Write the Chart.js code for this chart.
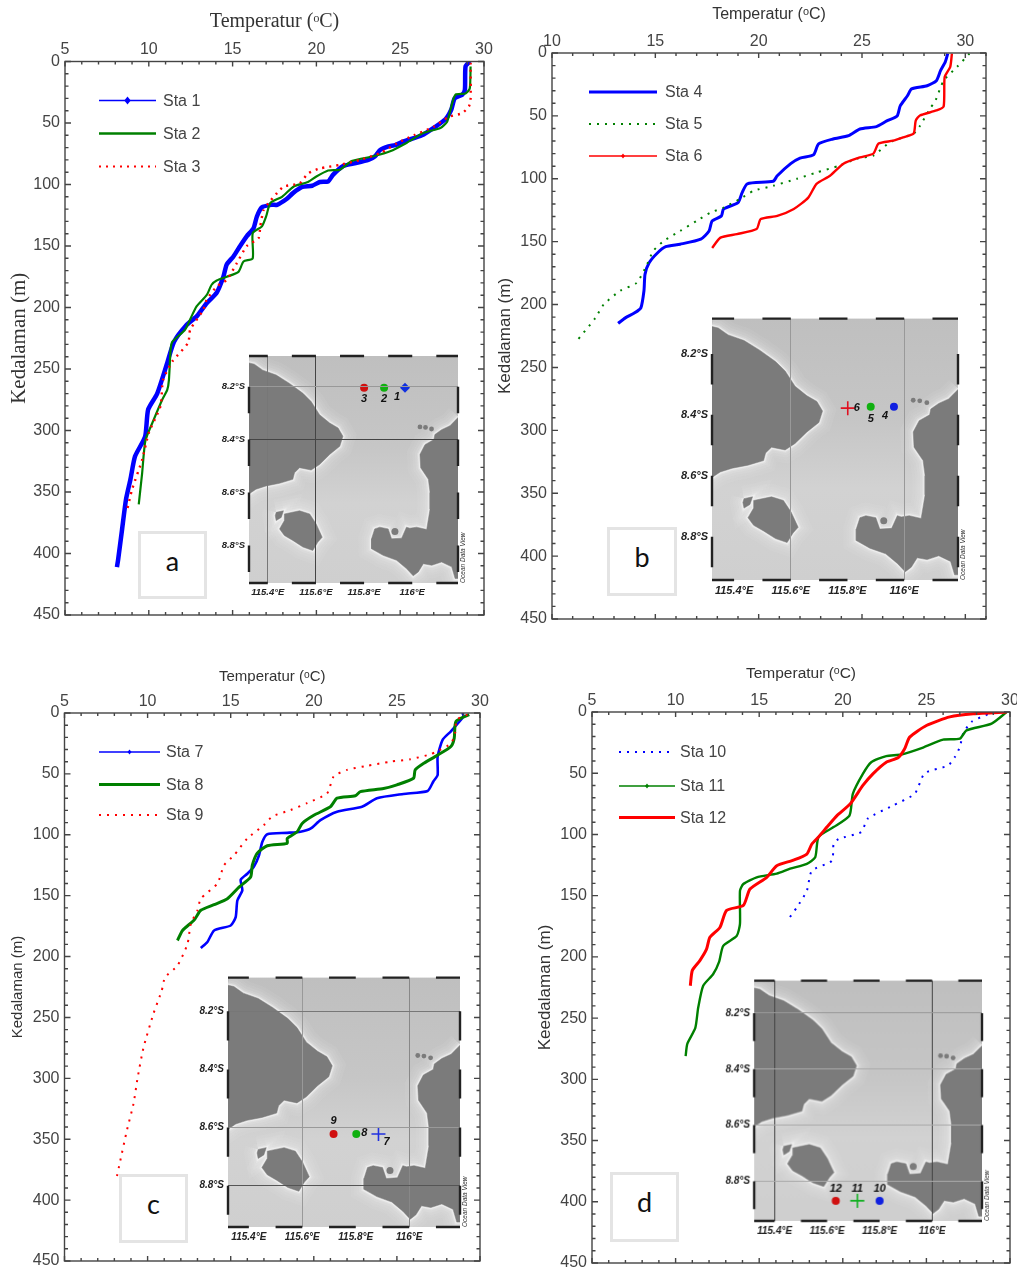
<!DOCTYPE html>
<html>
<head>
<meta charset="utf-8">
<script src="https://cdn.jsdelivr.net/npm/chart.js@4/dist/chart.umd.js"></script>
<style>
  html, body { margin: 0; background: #fff; overflow: hidden; }
  #page { position: relative; width: 1017px; height: 1271px; overflow: hidden; }
  canvas { position: absolute; }
  .tag { position: absolute; box-sizing: border-box; border: 3px solid #e4e4e4; background: #fff;
         font: 27px Lato, "Open Sans", sans-serif; color: #111; text-align: center; }
</style>
</head>
<body>
<div id="page"></div>
<script>
// temperature (deg C) and depth (m)
const sta1Temp = [29.16, 28.9, 28.86, 28.7, 28.25, 28.05, 27.7, 27, 26.3, 25.2, 24.7, 24.3, 23.8, 23.5, 23.1, 22.2, 21.6, 21, 20.7, 20.2, 19.75, 19.15, 18.6, 18.2, 17.65, 17.35, 16.75, 16.45, 16.25, 15.85, 15.45, 15.05, 14.65, 14.45, 14.05, 13.45, 12.87, 12.2, 11.5, 11.1, 10.5, 9.96, 9.78, 9.18, 8.9, 8.64, 8.4, 8.17, 8.1]
const sta1Depth = [0, 4, 23, 27, 30, 39, 47, 54, 60, 65, 68, 69, 72, 77, 80, 83, 85, 92, 97.5, 98, 101, 102, 107, 112, 116.5, 116.5, 118.5, 126, 135.5, 142, 150, 158.5, 165, 175, 188, 196.5, 207, 215, 228, 245, 270, 283, 305, 321, 340, 356, 381, 405, 411]
const sta2Temp = [29.2, 29.15, 28.9, 28.3, 28.1, 27.8, 27.4, 26.4, 25.4, 24.4, 23.4, 22.1, 21.4, 20.7, 20, 19.5, 18.65, 17.95, 17.25, 17, 16.75, 16.2, 16.2, 15.65, 15.35, 14.65, 14.05, 13.75, 13.45, 12.85, 12.5, 12.17, 11.4, 11.3, 11.2, 11.1, 10.8, 10.3, 9.8, 9.6, 9.4]
const sta2Depth = [4, 22, 26, 27, 34, 49, 54, 58, 66, 73, 77, 81, 88, 88.6, 93.5, 98, 101.6, 110, 115, 126, 134, 139.5, 160, 162.6, 171, 175, 178, 181.5, 190, 199, 208.7, 218, 228, 234.5, 259, 267, 275, 291, 308, 335, 360]
const sta3Temp = [29.2, 29.2, 29.1, 28.7, 27.9, 27, 25.8, 24.8, 23.8, 22.6, 21.4, 20.2, 19.5, 19, 18.05, 17.65, 17.15, 16.85, 16.65, 16.55, 15.85, 15.25, 14.65, 14.05, 13.45, 13.25, 12.47, 12.35, 11.4, 10.85, 10.7, 10, 9.6, 9, 8.7]
const sta3Depth = [1, 31, 36.5, 42, 45, 53, 60, 66.5, 74.5, 80, 84, 87, 91, 99, 101.6, 107, 115, 120.6, 134, 143.6, 150, 164, 177.5, 183, 193.8, 202, 218, 228.6, 244, 259, 280, 302, 324, 348, 365]

const sta4Temp = [29.15, 29.03, 28.8, 28.6, 28.15, 27.4, 27.2, 26.85, 26.7, 26.2, 25.7, 24.9, 24.35, 23.6, 22.9, 22.65, 22, 21.55, 20.9, 20.7, 19.45, 19.2, 19, 18.3, 18.2, 17.75, 17.6, 17.2, 16.2, 15.5, 15.1, 14.7, 14.5, 14.45, 14.3, 14, 13.55, 13.2]
const sta4Depth = [0.5, 7, 14, 22, 26, 28.5, 34, 42, 50, 54, 58.5, 60.4, 65.7, 68.4, 72.3, 81, 83.5, 88, 97.6, 102, 104, 111, 119, 124, 129.5, 133.5, 141.5, 148, 152, 154, 159, 166.8, 176, 189, 202.6, 206.6, 210.6, 215]
const sta5Temp = [30.2, 29.6, 28.95, 28.55, 28.3, 27.8, 27.5, 26.35, 25.55, 24.75, 23.9, 22.8, 21.85, 20.7, 19.75, 19.1, 18.3, 17.65, 17, 16.2, 15.4, 14.9, 14.6, 14.1, 13.3, 12.5, 12.1, 11.2]
const sta5Depth = [0.5, 11, 22, 38, 44, 58, 64, 71, 81.6, 84, 89.6, 95, 100, 105.6, 109.6, 116, 123, 127, 133.5, 141.5, 149.5, 157.4, 168, 182.7, 189, 200, 210.6, 229]
const sta6Temp = [29.35, 29.27, 29, 28.95, 28.6, 27.8, 27.6, 27.5, 27, 26.5, 25.8, 25.55, 24.9, 24.1, 23.45, 22.8, 22.4, 21.7, 20.9, 20.1, 19.9, 18.95, 18.15, 17.75]
const sta6Depth = [0.5, 11, 19, 42.5, 45.7, 49.7, 53.7, 64, 67, 69.7, 72, 80, 83, 88, 97.6, 104, 115, 124, 129.5, 132, 140, 144, 146.8, 155]

const sta7Temp = [28.95, 29, 28.25, 27.75, 27.45, 27.45, 27.2, 26.85, 25.4, 23.8, 22.9, 21.4, 20.4, 19.8, 19.2, 18.4, 17.2, 16.9, 16.7, 16.4, 16, 15.6, 15.7, 15.4, 15.3, 15, 14, 13.6, 13.2]
const sta7Depth = [0, 3, 15, 22, 36, 51, 56, 64, 66.5, 70, 77, 81, 88, 95, 97.5, 98.4, 99.5, 106, 117, 126, 132, 137, 145.6, 154, 167.6, 174.5, 178.6, 188, 193]
const sta8Temp = [29.35, 28.55, 28.45, 28.25, 27.4, 26.65, 26.1, 26, 25, 24.2, 22.8, 22.5, 21.4, 21, 20, 19.3, 19, 18.4, 18.4, 17.2, 16.6, 16.3, 16.2, 15.5, 14.8, 14, 13.2, 12.8, 12.1, 11.8]
const sta8Depth = [1.4, 7, 20.6, 27.5, 35, 41, 46.7, 53.6, 59, 62, 64.6, 68, 70, 77, 84, 90.7, 97.5, 103, 107, 109, 115, 125, 134.6, 143, 152.5, 157.4, 162, 170, 178.6, 186.8]
const sta9Temp = [29.25, 28.6, 28.5, 28.25, 27.4, 27, 25.8, 24.6, 23.2, 22, 21.2, 20.8, 19.6, 18.6, 17.5, 17, 16, 15.2, 14.6, 14.2, 13.2, 13, 12.6, 12.4, 11.8, 11.05, 10.85, 10.35, 9.75, 9.4, 9.15, 8.75, 8.35, 8.1]
const sta9Depth = [1.4, 5.5, 16.5, 25, 31.6, 34, 38, 40, 43.4, 46.7, 52, 66, 74, 79.7, 85, 92, 103, 116.8, 125, 140, 152.5, 162, 173, 189.6, 207.4, 217, 228, 247, 275, 299.6, 321, 343, 368, 384]

const sta10Temp = [29.6, 28.8, 27.7, 27.2, 27, 26.7, 26.3, 24.9, 24.3, 23, 21.5, 21.1, 19.75, 19.45, 19.35, 18.15, 17.85, 17.25, 16.65]
const sta10Depth = [0, 1.4, 8, 17.7, 28.6, 36.8, 43.7, 50, 66.8, 76.4, 87, 98, 103.7, 107.8, 121.4, 129.6, 146, 159.6, 171]
const sta11Temp = [29.8, 28.9, 27.4, 27, 26, 24.8, 23.5, 22.6, 21.7, 21.2, 20.6, 20.4, 19.45, 18.55, 18.35, 17.85, 16.85, 16.05, 14.85, 14.05, 13.85, 13.85, 13.65, 12.85, 12.6, 12.25, 11.65, 11.35, 11.18, 10.7, 10.6]
const sta11Depth = [0, 9.5, 15, 21.8, 22.6, 29, 34.7, 36, 41, 50.5, 66.8, 84.6, 94, 102, 118.7, 124, 128, 132, 135, 140.5, 146, 173, 183, 191, 204, 214, 223.6, 241.6, 258, 271, 281]
const sta12Temp = [29.8, 27.8, 26.4, 25, 24, 23.7, 23.3, 22.6, 21.8, 21.2, 20.45, 19.65, 19.05, 18.55, 18.15, 17.85, 17.05, 16.05, 15.45, 14.45, 14.05, 13.05, 12.65, 12.05, 11.85, 11.45, 11, 10.88]
const sta12Depth = [0, 1.4, 4, 11, 20.5, 30, 37.4, 41, 50.5, 60, 75, 84.6, 94, 102, 107.8, 116, 121, 125.5, 135, 144.6, 158, 162, 176, 184, 193.7, 203, 211, 223.6]

const depthTicks = [0, 50, 100, 150, 200, 250, 300, 350, 400, 450]
const tempTicks = [5, 10, 15, 20, 25, 30]
const tempTicksB = [10, 15, 20, 25, 30]

// coastlines for the inset maps (longitude E, latitude S as negative)
const baliLon = [115.321, 115.344, 115.379, 115.435, 115.49, 115.546, 115.58, 115.615, 115.657, 115.692, 115.712, 115.699, 115.657, 115.615, 115.58, 115.532, 115.511, 115.504, 115.449, 115.393, 115.351, 115.321, 115.321]
const baliLat = [-8.11, -8.115, -8.1375, -8.156, -8.1875, -8.225, -8.256, -8.306, -8.3375, -8.356, -8.3875, -8.425, -8.456, -8.494, -8.515, -8.506, -8.525, -8.55, -8.565, -8.575, -8.5875, -8.606, -8.11]
const penidaLon = [115.469, 115.532, 115.574, 115.601, 115.626, 115.608, 115.587, 115.546, 115.504, 115.469, 115.449, 115.469, 115.469]
const penidaLat = [-8.681, -8.669, -8.681, -8.719, -8.769, -8.7875, -8.819, -8.806, -8.781, -8.7625, -8.7375, -8.706, -8.681]
const lembonganLon = [115.435, 115.465, 115.456, 115.435, 115.431, 115.435]
const lembonganLat = [-8.675, -8.669, -8.694, -8.706, -8.6875, -8.675]
const lombokLon = [116.192, 116.157, 116.122, 116.094, 116.09, 116.053, 116.032, 116.035, 116.067, 116.074, 116.074, 116.06, 116.018, 115.99, 115.976, 115.956, 115.914, 115.9, 115.865, 115.844, 115.831, 115.831, 115.879, 115.935, 115.976, 116.004, 116.025, 116.046, 116.081, 116.122, 116.164, 116.178, 116.192, 116.192]
const lombokLat = [-8.315, -8.3475, -8.3625, -8.381, -8.4, -8.419, -8.456, -8.506, -8.55, -8.6, -8.6625, -8.74, -8.731, -8.735, -8.731, -8.7725, -8.775, -8.7375, -8.731, -8.7375, -8.775, -8.8125, -8.8375, -8.856, -8.8875, -8.915, -8.9, -8.869, -8.875, -8.8625, -8.881, -8.925, -8.925, -8.315]
const islesLon = [116.032, 116.055, 116.08, 115.928]
const islesLat = [-8.352, -8.354, -8.36, -8.7475]

const mapLonTicks = [115.4, 115.6, 115.8, 116]
const mapLatTicks = [-8.2, -8.4, -8.6, -8.8]
const mapLonDashes = [[115.322, 115.4], [115.5, 115.6], [115.7, 115.8], [115.9, 116], [116.1, 116.19]]
const mapLatDashes = [[-8.2, -8.3], [-8.4, -8.5], [-8.6, -8.7], [-8.8, -8.9]]

const BLUE = '#0000ff', GREEN = '#008000', RED = '#ff0000'
const SANS_FAMILY = '"Liberation Sans", sans-serif'
const TICK_FONT = { family: SANS_FAMILY, size: 16 }
const page = document.getElementById('page')

function addCanvas(left, top, width, height, blur) {
  const cv = document.createElement('canvas')
  cv.width = width
  cv.height = height
  cv.style.cssText = `left:${left}px;top:${top}px;width:${width}px;height:${height}px;filter:blur(${blur}px);`
  page.appendChild(cv)
  return cv
}

function xy(xs, ys) {
  return xs.map((x, i) => ({ x, y: ys[i] }))
}

// frame, inward ticks on all four sides and the hand placed legend
function profilePlugin(p) {
  return {
    id: 'profileFrame',
    afterDraw(chart) {
      const { ctx, chartArea: a, scales: { x, y } } = chart
      ctx.save()
      ctx.strokeStyle = '#444'
      ctx.lineWidth = 1.4
      ctx.strokeRect(a.left, a.top, a.right - a.left, a.bottom - a.top)
      ctx.beginPath()
      for (let v = p.xMin; v <= p.xMax; v++) {
        const len = v % 5 === 0 ? 5 : 3
        const px = x.getPixelForValue(v)
        ctx.moveTo(px, a.top); ctx.lineTo(px, a.top + len)
        ctx.moveTo(px, a.bottom); ctx.lineTo(px, a.bottom - len)
      }
      for (let v = 0; v <= 450; v += 10) {
        const len = v % 50 === 0 ? 6 : 3.5
        const py = y.getPixelForValue(v)
        ctx.moveTo(a.left, py); ctx.lineTo(a.left + len, py)
        ctx.moveTo(a.right, py); ctx.lineTo(a.right - len, py)
      }
      ctx.stroke()

      ctx.font = '16px ' + SANS_FAMILY
      ctx.textBaseline = 'middle'
      p.series.forEach((s, i) => {
        const ly = p.legend.y[i] - p.canvas[1]
        const x0 = p.legend.x0 - p.canvas[0], x1 = p.legend.x1 - p.canvas[0]
        const mid = (x0 + x1) / 2
        ctx.beginPath()
        ctx.setLineDash(s.dash || [])
        ctx.strokeStyle = s.color
        ctx.lineWidth = s.legendWidth
        ctx.moveTo(x0, ly); ctx.lineTo(x1, ly)
        ctx.stroke()
        ctx.setLineDash([])
        if (s.mark) {
          ctx.fillStyle = s.color
          ctx.beginPath()
          ctx.moveTo(mid, ly - s.mark); ctx.lineTo(mid + s.mark * 0.8, ly)
          ctx.lineTo(mid, ly + s.mark); ctx.lineTo(mid - s.mark * 0.8, ly)
          ctx.fill()
        }
        ctx.fillStyle = '#444'
        ctx.fillText(s.name, p.legend.text - p.canvas[0], ly + 1)
      })
      ctx.restore()
    }
  }
}

function profileChart(p) {
  const [cl, ct, cw, ch] = p.canvas
  const b = p.box
  new Chart(addCanvas(cl, ct, cw, ch, 0.3), {
    type: 'scatter',
    data: {
      datasets: p.series.map((s, i) => ({
        label: s.name,
        data: xy(s.temp, s.depth),
        showLine: true,
        tension: 0.2,
        order: 10 - i,
        borderColor: s.color,
        borderWidth: s.width,
        borderDash: s.dash || [],
        pointRadius: 0,
        pointHoverRadius: 0
      }))
    },
    options: {
      responsive: false,
      animation: false,
      devicePixelRatio: 1,
      layout: { padding: { left: 0, top: 0, right: cl + cw - b.right, bottom: ct + ch - b.bottom } },
      plugins: { legend: { display: false }, tooltip: { enabled: false } },
      scales: {
        x: {
          type: 'linear',
          position: 'top',
          min: p.xMin,
          max: p.xMax,
          afterBuildTicks(s) { s.ticks = p.xTicks.map(value => ({ value })) },
          afterFit(s) { s.height = b.top - ct; s.paddingLeft = 0; s.paddingRight = 0 },
          grid: { display: false, drawTicks: false },
          border: { display: false },
          ticks: { autoSkip: false, maxRotation: 0, padding: 2, color: '#444', font: TICK_FONT },
          title: { display: true, text: 'Temperatur (ᵒC)', color: '#333', font: p.titleFont, padding: { top: p.titleTop, bottom: 0 } }
        },
        y: {
          type: 'linear',
          reverse: true,
          min: 0,
          max: 450,
          afterBuildTicks(s) { s.ticks = depthTicks.map(value => ({ value })) },
          afterFit(s) { s.width = b.left - cl; s.paddingTop = 0; s.paddingBottom = 0 },
          grid: { display: false, drawTicks: false },
          border: { display: false },
          ticks: { autoSkip: false, padding: 5, color: '#444', font: TICK_FONT },
          title: { display: true, text: p.yTitle, color: '#333', font: p.yTitleFont, padding: { top: p.yTitleLeft, bottom: 0 } }
        }
      }
    },
    plugins: [profilePlugin(p)]
  })
}

// sea shading behind, dashed border and labels on top of the inset map
function mapPlugin(m) {
  return {
    id: 'mapDecor',
    beforeDraw(chart) {
      const { ctx, chartArea: a } = chart
      const g = ctx.createLinearGradient(0, a.top, 0, a.bottom)
      g.addColorStop(0, '#bfbfbf')
      g.addColorStop(0.4, '#c6c6c6')
      g.addColorStop(0.65, '#d2d2d2')
      g.addColorStop(1, '#cfcfcf')
      ctx.fillStyle = g
      ctx.fillRect(a.left, a.top, a.right - a.left, a.bottom - a.top)
    },
    afterDraw(chart) {
      const { ctx, chartArea: a, scales: { x, y } } = chart
      ctx.save()
      ctx.strokeStyle = '#222'
      ctx.lineWidth = 2.4
      ctx.beginPath()
      mapLonDashes.forEach(([p, q]) => {
        for (const yy of [a.top, a.bottom]) {
          ctx.moveTo(x.getPixelForValue(p), yy); ctx.lineTo(x.getPixelForValue(q), yy)
        }
      })
      mapLatDashes.forEach(([p, q]) => {
        for (const xx of [a.left, a.right]) {
          ctx.moveTo(xx, y.getPixelForValue(p)); ctx.lineTo(xx, y.getPixelForValue(q))
        }
      })
      ctx.stroke()

      ctx.fillStyle = '#111'
      ctx.font = 'italic bold 11px ' + SANS_FAMILY
      ctx.textAlign = 'center'
      ctx.textBaseline = 'middle'
      m.stations.forEach(s => {
        ctx.fillText(s.name, x.getPixelForValue(s.lon) + s.dx, y.getPixelForValue(s.lat) + s.dy)
      })

      ctx.translate(a.right + 5, a.bottom)
      ctx.rotate(-Math.PI / 2)
      ctx.font = 'italic 6.5px ' + SANS_FAMILY
      ctx.textAlign = 'left'
      ctx.fillStyle = '#333'
      ctx.fillText('Ocean Data View', 0, 0)
      ctx.restore()
    }
  }
}

function mapChart(m) {
  const ml = 50, mr = 16, mt = 4, mb = 26
  const b = m.box
  const labelFont = { family: SANS_FAMILY, size: m.labelSize, style: 'italic', weight: 'bold' }
  const coast = [[baliLon, baliLat], [penidaLon, penidaLat], [lembonganLon, lembonganLat], [lombokLon, lombokLat]]
  const datasets = []
  // pale halo along the coast, widest first
  for (const [w, c] of [[26, 0.07], [20, 0.07], [15, 0.09], [10, 0.12], [6, 0.25], [3.5, 0.6]]) {
    coast.forEach(([lon, lat]) => datasets.push({ data: xy(lon, lat), showLine: true, borderColor: `rgba(245,245,245,${c})`, borderWidth: w, pointRadius: 0, fill: false }))
  }
  coast.forEach(([lon, lat]) => datasets.push({ data: xy(lon, lat), showLine: true, borderColor: '#7b7b7b', borderWidth: 0.5, backgroundColor: '#7b7b7b', pointRadius: 0, fill: 'shape' }))
  datasets.push({ data: xy(islesLon, islesLat), pointRadius: [2.4, 2.4, 2.4, 3.5], backgroundColor: '#7b7b7b', borderWidth: 0 })
  m.stations.forEach(s => datasets.push({
    data: [{ x: s.lon, y: s.lat }],
    pointStyle: s.style,
    pointRadius: s.style === 'cross' ? 7 : s.style === 'rectRot' ? 5 : 4,
    pointBorderWidth: s.style === 'cross' ? 1.6 : 0,
    pointBorderColor: s.color,
    backgroundColor: s.color
  }))
  datasets.forEach((d, i) => { d.order = 100 - i })

  new Chart(addCanvas(b.left - ml, b.top - mt, b.right - b.left + ml + mr, b.bottom - b.top + mt + mb, 0.45), {
    type: 'scatter',
    data: { datasets },
    options: {
      responsive: false,
      animation: false,
      devicePixelRatio: 1,
      layout: { padding: { left: 0, top: mt, right: mr, bottom: 0 } },
      plugins: { legend: { display: false }, tooltip: { enabled: false } },
      scales: {
        x: {
          type: 'linear',
          position: 'bottom',
          min: 115.322,
          max: 116.19,
          afterBuildTicks(s) { s.ticks = mapLonTicks.map(value => ({ value })) },
          afterFit(s) { s.height = mb; s.paddingLeft = 0; s.paddingRight = 0 },
          grid: { z: 1, drawTicks: false, lineWidth: 1, color: c => (c.tick && m.lonLines[c.tick.value]) || 'transparent' },
          border: { display: false },
          ticks: { autoSkip: false, maxRotation: 0, padding: 4, color: '#222', font: labelFont, callback: v => v + '°E' }
        },
        y: {
          type: 'linear',
          min: -8.942,
          max: -8.084,
          afterBuildTicks(s) { s.ticks = mapLatTicks.map(value => ({ value })) },
          afterFit(s) { s.width = ml; s.paddingTop = 0; s.paddingBottom = 0 },
          grid: { z: 1, drawTicks: false, lineWidth: 1, color: c => (c.tick && m.latLines[c.tick.value]) || 'transparent' },
          border: { display: false },
          ticks: { autoSkip: false, padding: 4, color: '#222', font: labelFont, callback: v => Math.abs(v) + '°S' }
        }
      }
    },
    plugins: [mapPlugin(m)]
  })
}

function addTag(letter, left, top, width, height) {
  const d = document.createElement('div')
  d.className = 'tag'
  d.style.cssText = `left:${left}px;top:${top}px;width:${width}px;height:${height}px;line-height:54px;`
  d.textContent = letter
  page.appendChild(d)
}

const serif = size => ({ family: '"Liberation Serif", serif', size })
const sans = size => ({ family: SANS_FAMILY, size })

profileChart({
  canvas: [0, 0, 506, 640],
  box: { left: 65, top: 61.5, right: 484, bottom: 615 },
  xMin: 5, xMax: 30, xTicks: tempTicks,
  titleFont: serif(20), titleTop: 10, yTitle: 'Kedalaman (m)', yTitleFont: serif(21), yTitleLeft: 7,
  legend: { x0: 99, x1: 156, text: 163, y: [100.5, 133.5, 166.5] },
  series: [
    { name: 'Sta 1', temp: sta1Temp, depth: sta1Depth, color: BLUE, width: 4.5, legendWidth: 1.5, mark: 4 },
    { name: 'Sta 2', temp: sta2Temp, depth: sta2Depth, color: GREEN, width: 2.2, legendWidth: 2.5 },
    { name: 'Sta 3', temp: sta3Temp, depth: sta3Depth, color: RED, width: 2.4, legendWidth: 2.2, dash: [2, 5] }
  ]
})
profileChart({
  canvas: [495, 0, 522, 640],
  box: { left: 552, top: 53, right: 986, bottom: 619 },
  xMin: 10, xMax: 31, xTicks: tempTicksB,
  titleFont: sans(16), titleTop: 5.4, yTitle: 'Kedalaman (m)', yTitleFont: sans(17), yTitleLeft: 0,
  legend: { x0: 589, x1: 657, text: 665, y: [92, 124, 156] },
  series: [
    { name: 'Sta 4', temp: sta4Temp, depth: sta4Depth, color: BLUE, width: 3, legendWidth: 3 },
    { name: 'Sta 5', temp: sta5Temp, depth: sta5Depth, color: GREEN, width: 2, legendWidth: 2, dash: [2, 6] },
    { name: 'Sta 6', temp: sta6Temp, depth: sta6Depth, color: RED, width: 2.4, legendWidth: 1.5, mark: 2.5 }
  ]
})
profileChart({
  canvas: [0, 650, 506, 621],
  box: { left: 64.5, top: 713, right: 480, bottom: 1261 },
  xMin: 5, xMax: 30, xTicks: tempTicks,
  titleFont: sans(15), titleTop: 18, yTitle: 'Kedalaman (m)', yTitleFont: sans(15), yTitleLeft: 9,
  legend: { x0: 99, x1: 160, text: 166, y: [752, 784.5, 815] },
  series: [
    { name: 'Sta 7', temp: sta7Temp, depth: sta7Depth, color: BLUE, width: 2.6, legendWidth: 1.5, mark: 2.5 },
    { name: 'Sta 8', temp: sta8Temp, depth: sta8Depth, color: GREEN, width: 3, legendWidth: 3 },
    { name: 'Sta 9', temp: sta9Temp, depth: sta9Depth, color: RED, width: 2, legendWidth: 2, dash: [2, 6] }
  ]
})
profileChart({
  canvas: [510, 650, 507, 621],
  box: { left: 592, top: 712, right: 1010, bottom: 1263 },
  xMin: 5, xMax: 30, xTicks: tempTicks,
  titleFont: sans(15.5), titleTop: 14.7, yTitle: 'Keedalaman (m)', yTitleFont: sans(17), yTitleLeft: 25,
  legend: { x0: 619, x1: 675, text: 680, y: [752, 786, 817.5] },
  series: [
    { name: 'Sta 10', temp: sta10Temp, depth: sta10Depth, color: BLUE, width: 2, legendWidth: 2, dash: [2, 6] },
    { name: 'Sta 11', temp: sta11Temp, depth: sta11Depth, color: GREEN, width: 2.4, legendWidth: 1.5, mark: 2.5 },
    { name: 'Sta 12', temp: sta12Temp, depth: sta12Depth, color: RED, width: 3, legendWidth: 3 }
  ]
})

mapChart({
  box: { left: 248.5, top: 355, right: 458, bottom: 583 },
  labelSize: 9.5,
  lonLines: { 115.4: '#777', 115.6: '#444' },
  latLines: { '-8.2': '#999', '-8.4': '#444' },
  stations: [
    { name: '3', lon: 115.8, lat: -8.204, style: 'circle', color: '#d01010', dx: 0, dy: 11 },
    { name: '2', lon: 115.883, lat: -8.204, style: 'circle', color: '#10b010', dx: 0, dy: 11 },
    { name: '1', lon: 115.97, lat: -8.204, style: 'rectRot', color: '#1030e0', dx: -8, dy: 9 }
  ]
})
mapChart({
  box: { left: 712, top: 314, right: 958, bottom: 580 },
  labelSize: 11,
  lonLines: { 115.6: '#999', 116: '#999' },
  latLines: {},
  stations: [
    { name: '6', lon: 115.801, lat: -8.378, style: 'cross', color: '#e01020', dx: 9, dy: 0 },
    { name: '5', lon: 115.882, lat: -8.373, style: 'circle', color: '#10b010', dx: 0, dy: 12 },
    { name: '4', lon: 115.964, lat: -8.373, style: 'circle', color: '#1020e0', dx: -9, dy: 9 }
  ]
})
mapChart({
  box: { left: 227.5, top: 973, right: 460, bottom: 1227 },
  labelSize: 10,
  lonLines: { 115.6: '#999', 116: '#888' },
  latLines: { '-8.2': '#777', '-8.6': '#999', '-8.8': '#555' },
  stations: [
    { name: '9', lon: 115.717, lat: -8.622, style: 'circle', color: '#d01010', dx: 0, dy: -13 },
    { name: '8', lon: 115.802, lat: -8.622, style: 'circle', color: '#10b010', dx: 8, dy: -1 },
    { name: '7', lon: 115.885, lat: -8.622, style: 'cross', color: '#2030e0', dx: 8, dy: 8 }
  ]
})
mapChart({
  box: { left: 754, top: 976, right: 981.5, bottom: 1220.5 },
  labelSize: 10,
  lonLines: { 115.4: '#444', 116: '#444' },
  latLines: { '-8.2': '#999', '-8.4': '#aaa', '-8.6': '#aaa', '-8.8': '#aaa' },
  stations: [
    { name: '12', lon: 115.633, lat: -8.87, style: 'circle', color: '#d01010', dx: 0, dy: -12 },
    { name: '11', lon: 115.715, lat: -8.87, style: 'cross', color: '#10b020', dx: 0, dy: -12 },
    { name: '10', lon: 115.8, lat: -8.87, style: 'circle', color: '#1020e0', dx: 0, dy: -12 }
  ]
})

addTag('a', 138, 531, 69, 68)
addTag('b', 607, 527, 70, 69)
addTag('c', 119, 1174, 69, 69)
addTag('d', 610, 1172, 69, 70)
</script>
</body>
</html>
